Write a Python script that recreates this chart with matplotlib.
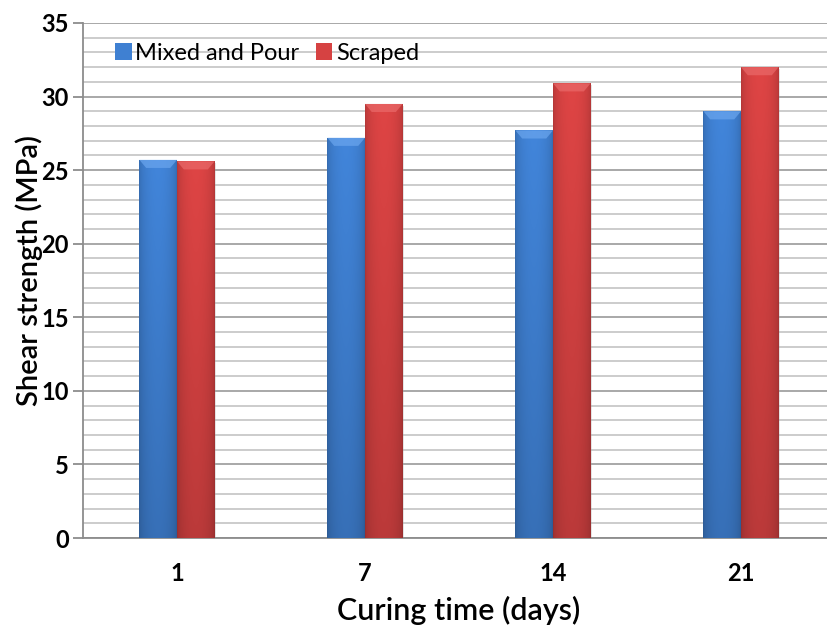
import numpy as np
import matplotlib
matplotlib.use('Agg')
import matplotlib.pyplot as plt
from matplotlib.patches import Polygon, Rectangle
from matplotlib.colors import to_rgb

# ---- data ----
days = ['1', '7', '14', '21']
mixed_pour = [25.7, 27.2, 27.7, 29.0]
scraped = [25.6, 29.5, 30.9, 32.0]
series_names = ['Mixed and Pour', 'Scraped']
colors = ['#3F80D2', '#D64242']
bevel = ['#6BA6EE', '#EA6A6A']

plt.rcParams['font.family'] = ['Lato', 'DejaVu Sans']

fig = plt.figure(figsize=(8.27, 6.30), dpi=100)
ax = fig.add_axes([83/827, 92/630, 752/827, 515/630])

x = np.arange(len(days))
w = 0.2


def shade(bars, base, light):
    r, g, b = to_rgb(base)
    for bar in bars:
        x0, y0 = bar.get_x(), bar.get_y()
        bw, bh = bar.get_width(), bar.get_height()
        # soft shadow on the right / below
        ax.add_patch(Rectangle((x0 + 0.01, y0 - 0.12), bw, bh, color='0.65',
                               alpha=0.3, zorder=2, lw=0))
        xs = np.linspace(0, 1, 60)
        ys = np.linspace(0, 1, 120)[:, None]
        hprof = 0.84 + 0.2 * np.sin(np.pi * xs) ** 0.5
        vprof = 0.84 + 0.16 * ys
        f = hprof[None, :] * vprof
        img = np.dstack([np.clip(r * f, 0, 1), np.clip(g * f, 0, 1), np.clip(b * f, 0, 1)])
        im = ax.imshow(img, extent=(x0, x0 + bw, y0, y0 + bh), origin='lower',
                       aspect='auto', zorder=3, interpolation='bilinear')
        im.set_clip_path(bar)
        bh_top = 0.55
        ax.add_patch(Polygon([(x0, y0 + bh), (x0 + bw, y0 + bh),
                              (x0 + bw * 0.82, y0 + bh - bh_top),
                              (x0 + bw * 0.18, y0 + bh - bh_top)],
                             closed=True, color=light, lw=0, zorder=4, alpha=0.7))


b1 = ax.bar(x - w / 2, mixed_pour, w, color=colors[0], label=series_names[0], zorder=3, lw=0)
b2 = ax.bar(x + w / 2, scraped, w, color=colors[1], label=series_names[1], zorder=3, lw=0)
shade(b1, colors[0], bevel[0])
shade(b2, colors[1], bevel[1])

ax.set_xlim(-0.5, len(days) - 0.5)
ax.set_ylim(0, 35)
ax.set_yticks(np.arange(0, 36, 5))
ax.set_yticks(np.arange(0, 36, 1), minor=True)
ax.set_xticks(x)
ax.set_xticklabels(days)

ax.grid(axis='y', which='minor', color='#C8C8C8', lw=1.3, zorder=0)
ax.grid(axis='y', which='major', color='#A8A8A8', lw=1.4, zorder=0)
ax.set_axisbelow(True)

for s in ['top', 'right']:
    ax.spines[s].set_visible(False)
ax.spines['left'].set_color('#8C8C8C')
ax.spines['bottom'].set_color('#8C8C8C')
ax.spines['left'].set_linewidth(1.3)
ax.spines['bottom'].set_linewidth(1.3)

ax.tick_params(axis='y', which='major', length=7, width=1.3, color='#8C8C8C',
               labelsize=17, pad=3)
ax.tick_params(axis='y', which='minor', length=0)
ax.tick_params(axis='x', length=0, labelsize=17, pad=17)
for t in ax.get_xticklabels() + ax.get_yticklabels():
    t.set_fontweight('bold')

ax.set_ylabel('Shear strength (MPa)', fontsize=21, fontweight='semibold')
ax.set_xlabel('Curing time (days)', fontsize=22, fontweight='semibold', labelpad=8)
ax.yaxis.set_label_coords(-40/752, 0.52)

leg = ax.legend(loc='upper left', bbox_to_anchor=(0.03, 0.98), frameon=False,
                fontsize=17, ncol=2, handlelength=0.7, handleheight=0.7,
                handletextpad=0.15, columnspacing=0.7, borderaxespad=0)

fig.savefig('out.png', dpi=100)
